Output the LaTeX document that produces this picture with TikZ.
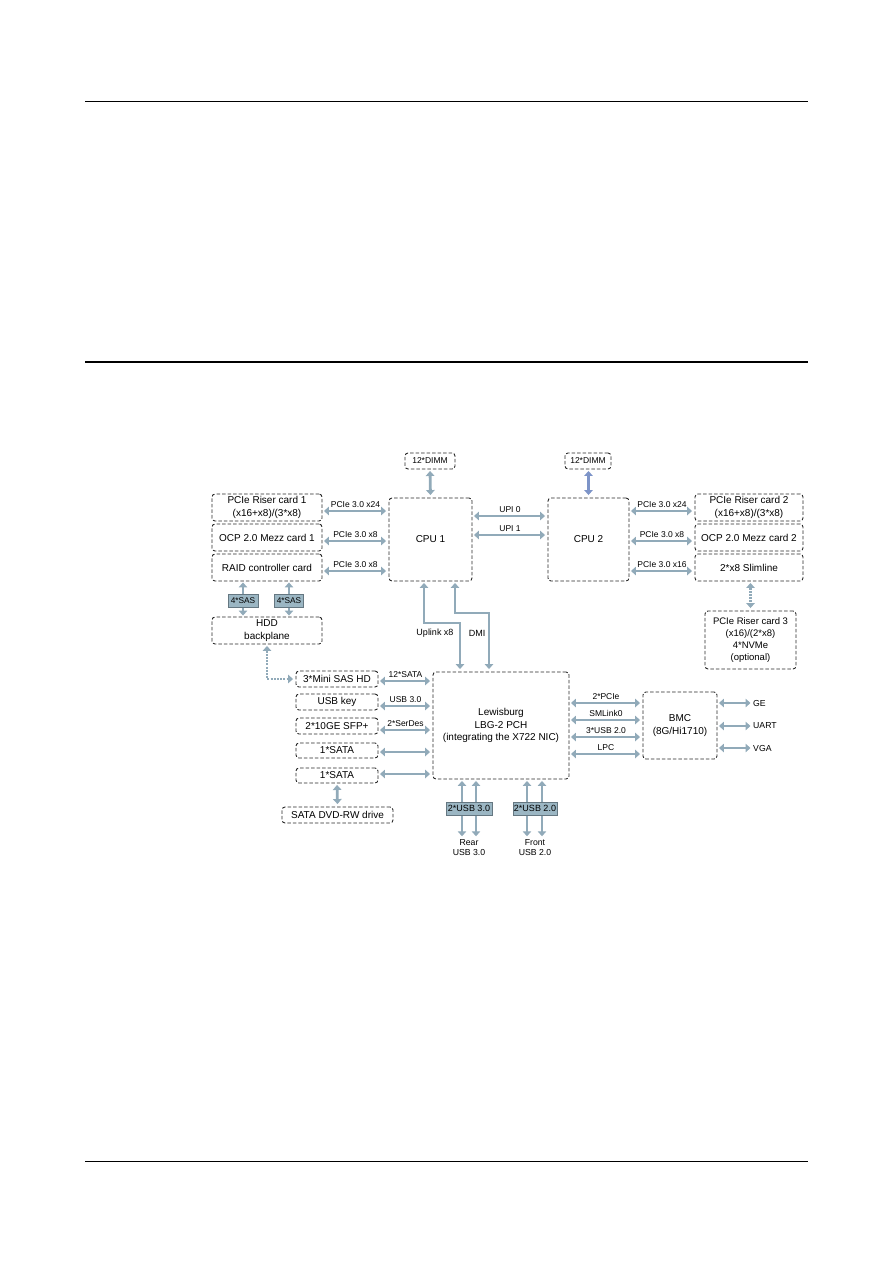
\documentclass[tikz,border=0pt]{standalone}
\usepackage{fontspec}
\setmainfont{Liberation Sans}
\usetikzlibrary{arrows.meta,backgrounds}
\definecolor{busc}{RGB}{145,170,185}
\definecolor{dimmc}{RGB}{125,148,200}
\definecolor{boxc}{RGB}{40,40,40}
\definecolor{fillc}{RGB}{155,182,195}
\begin{document}
\begin{tikzpicture}[x=1pt,y=-1pt,
  dbox/.style={draw=boxc, dash pattern=on 3.5pt off 2pt, line width=0.9pt, rounded corners=3pt,
    align=center, font=\fontsize{10}{12.5}\selectfont, inner sep=0pt},
  sbox/.style={dbox, font=\fontsize{8.5}{10}\selectfont},
  fbox/.style={draw=busc!70!black, fill=fillc, line width=0.5pt, font=\fontsize{8.3}{10}\selectfont, inner sep=0pt},
  bus/.style={draw=busc, line width=2.8pt, {Triangle[width=8.5pt,length=5pt]}-{Triangle[width=8.5pt,length=5pt]},
    shorten <=1.5pt, shorten >=2.5pt},
  dbus/.style={bus, dash pattern=on 2pt off 1.2pt},
  lab/.style={font=\fontsize{8.5}{10}\selectfont, inner sep=0pt},
  alab/.style={lab, above=2.2pt, midway}]
\useasboundingbox (0,0) rectangle (893,1263);
% page rules
\draw[line width=1pt] (85,101) -- (808,101);
\draw[line width=2.2pt] (85,362) -- (808,362);
\draw[line width=1pt] (85,1161) -- (808,1161);

% boxes
\node[sbox, minimum width=50pt, minimum height=16pt] (dimm1) at (430,461) {12*DIMM};
\node[sbox, minimum width=46pt, minimum height=16pt] (dimm2) at (588,461) {12*DIMM};
\node[dbox, minimum width=83pt, minimum height=83pt] (cpu1) at (430.5,539.5) {CPU 1};
\node[dbox, minimum width=81pt, minimum height=83pt] (cpu2) at (588.5,539.5) {CPU 2};
\node[dbox, minimum width=110pt, minimum height=27pt] (riser1) at (267,507.5) {PCIe Riser card 1\\(x16+x8)/(3*x8)};
\node[dbox, minimum width=110pt, minimum height=27pt] (ocp1) at (267,537.5) {OCP 2.0 Mezz card 1};
\node[dbox, minimum width=110pt, minimum height=27pt] (raid) at (267,567.5) {RAID controller card};
\node[dbox, minimum width=108pt, minimum height=27pt] (riser2) at (749,507.5) {PCIe Riser card 2\\(x16+x8)/(3*x8)};
\node[dbox, minimum width=108pt, minimum height=27pt] (ocp2) at (749,537.5) {OCP 2.0 Mezz card 2};
\node[dbox, minimum width=108pt, minimum height=27pt] (slim) at (749,567.5) {2*x8 Slimline};
\node[dbox, minimum width=110pt, minimum height=27pt] (hdd) at (267,630.5) {HDD\\backplane};
\node[dbox, minimum width=91pt, minimum height=58pt, font=\fontsize{9.5}{11.7}\selectfont] (riser3) at (750.5,640) {PCIe Riser card 3\\(x16)/(2*x8)\\4*NVMe\\(optional)};
\node[dbox, minimum width=82pt, minimum height=16pt] (sashd) at (337,679) {3*Mini SAS HD};
\node[dbox, minimum width=82pt, minimum height=16pt] (usbkey) at (337,702) {USB key};
\node[dbox, minimum width=82pt, minimum height=16pt] (sfp) at (337,726) {2*10GE SFP+};
\node[dbox, minimum width=82pt, minimum height=15pt] (sata1) at (337,750.5) {1*SATA};
\node[dbox, minimum width=82pt, minimum height=15pt] (sata2) at (337,775.5) {1*SATA};
\node[dbox, minimum width=111pt, minimum height=16pt] (dvd) at (337.5,815) {SATA DVD-RW drive};
\node[dbox, minimum width=136pt, minimum height=107pt] (pch) at (501,725.5) {Lewisburg\\LBG-2 PCH\\(integrating the X722 NIC)};
\node[dbox, minimum width=74pt, minimum height=67pt] (bmc) at (680,725.5) {BMC\\(8G/Hi1710)};
\node[fbox, minimum width=30pt, minimum height=13pt] (sas1) at (243,600.5) {4*SAS};
\node[fbox, minimum width=29pt, minimum height=13pt] (sas2) at (289,600.5) {4*SAS};
\node[fbox, minimum width=46pt, minimum height=13pt, font=\fontsize{9}{10}\selectfont] (usb3) at (469,808.5) {2*USB 3.0};
\node[fbox, minimum width=44pt, minimum height=13pt, font=\fontsize{9}{10}\selectfont] (usb2) at (535,808.5) {2*USB 2.0};
\node[lab, align=center, font=\fontsize{8.7}{10}\selectfont, inner sep=1pt] (rear) at (469,848) {Rear\\USB 3.0};
\node[lab, align=center, font=\fontsize{8.7}{10}\selectfont, inner sep=1pt] (front) at (535,848) {Front\\USB 2.0};
\node[lab, anchor=west, font=\fontsize{8.7}{10}\selectfont] (ge) at (753,703) {GE};
\node[lab, anchor=west, font=\fontsize{8.7}{10}\selectfont] (uart) at (753,726) {UART};
\node[lab, anchor=west, font=\fontsize{8.7}{10}\selectfont] (vga) at (753,748) {VGA};

\coordinate (ua) at (424,623);
\coordinate (ub) at (460,623);
\coordinate (da) at (455,613);
\coordinate (db) at (489,613);
\coordinate (hc) at (267,679);

\begin{scope}[on background layer]
% DIMM
\draw[bus] (dimm1.south) -- (cpu1.north);
\draw[bus, draw=dimmc] (dimm2.south -| cpu2) -- (cpu2.north);
% CPU1 left
\draw[bus] (riser1.east |- 0,511) -- (cpu1.west |- 0,511) node[alab] {PCIe 3.0 x24};
\draw[bus] (ocp1.east |- 0,541) -- (cpu1.west |- 0,541) node[alab] {PCIe 3.0 x8};
\draw[bus] (raid.east |- 0,571) -- (cpu1.west |- 0,571) node[alab] {PCIe 3.0 x8};
% CPU2 right
\draw[bus] (cpu2.east |- 0,511) -- (riser2.west |- 0,511) node[alab] {PCIe 3.0 x24};
\draw[bus] (cpu2.east |- 0,541) -- (ocp2.west |- 0,541) node[alab] {PCIe 3.0 x8};
\draw[bus] (cpu2.east |- 0,571) -- (slim.west |- 0,571) node[alab] {PCIe 3.0 x16};
% UPI
\draw[bus] (cpu1.east |- 0,516) -- (cpu2.west |- 0,516) node[alab] {UPI 0};
\draw[bus] (cpu1.east |- 0,535) -- (cpu2.west |- 0,535) node[alab] {UPI 1};
% Uplink / DMI
\draw[bus] (cpu1.south -| ua) -- (ua) -- (ub) -- (pch.north -| ub);
\draw[bus] (cpu1.south -| da) -- (da) -- (db) -- (pch.north -| db);
\node[lab, font=\fontsize{9}{10}\selectfont] (uplab) at (435,633) {Uplink x8};
\node[lab, font=\fontsize{9}{10}\selectfont] (dmilab) at (477,633) {DMI};
% SAS
\draw[bus, shorten <=1pt, shorten >=1pt] (raid.south -| sas1) -- (hdd.north -| sas1);
\draw[bus, shorten <=1pt, shorten >=1pt] (raid.south -| sas2) -- (hdd.north -| sas2);
% dotted
\draw[dbus] (hdd.south -| hc) -- (hc) -- (sashd.west);
\draw[dbus] (slim.south -| riser3) -- (riser3.north);
% left to PCH
\draw[bus] (sashd.east |- 0,681) -- (pch.west |- 0,681) node[alab] {12*SATA};
\draw[bus] (usbkey.east |- 0,706) -- (pch.west |- 0,706) node[alab] {USB 3.0};
\draw[bus] (sfp.east |- 0,730) -- (pch.west |- 0,730) node[alab] {2*SerDes};
\draw[bus] (sata1.east |- 0,752) -- (pch.west |- 0,752);
\draw[bus] (sata2.east |- 0,774) -- (pch.west |- 0,774);
\draw[bus] (sata2.south) -- (dvd.north);
% PCH - BMC
\draw[bus] (pch.east |- 0,703) -- (bmc.west |- 0,703) node[alab] {2*PCIe};
\draw[bus] (pch.east |- 0,720) -- (bmc.west |- 0,720) node[alab] {SMLink0};
\draw[bus] (pch.east |- 0,737) -- (bmc.west |- 0,737) node[alab] {3*USB 2.0};
\draw[bus] (pch.east |- 0,754) -- (bmc.west |- 0,754) node[alab] {LPC};
% BMC out
\draw[bus] (bmc.east |- ge) -- (ge.west);
\draw[bus] (bmc.east |- uart) -- (uart.west);
\draw[bus] (bmc.east |- vga) -- (vga.west);
% USB bottom
\draw[bus] (pch.south -| 462,0) -- (rear.north -| 462,0);
\draw[bus] (pch.south -| 476,0) -- (rear.north -| 476,0);
\draw[bus] (pch.south -| 527,0) -- (front.north -| 527,0);
\draw[bus] (pch.south -| 542,0) -- (front.north -| 542,0);
\end{scope}
\end{tikzpicture}
\end{document}
